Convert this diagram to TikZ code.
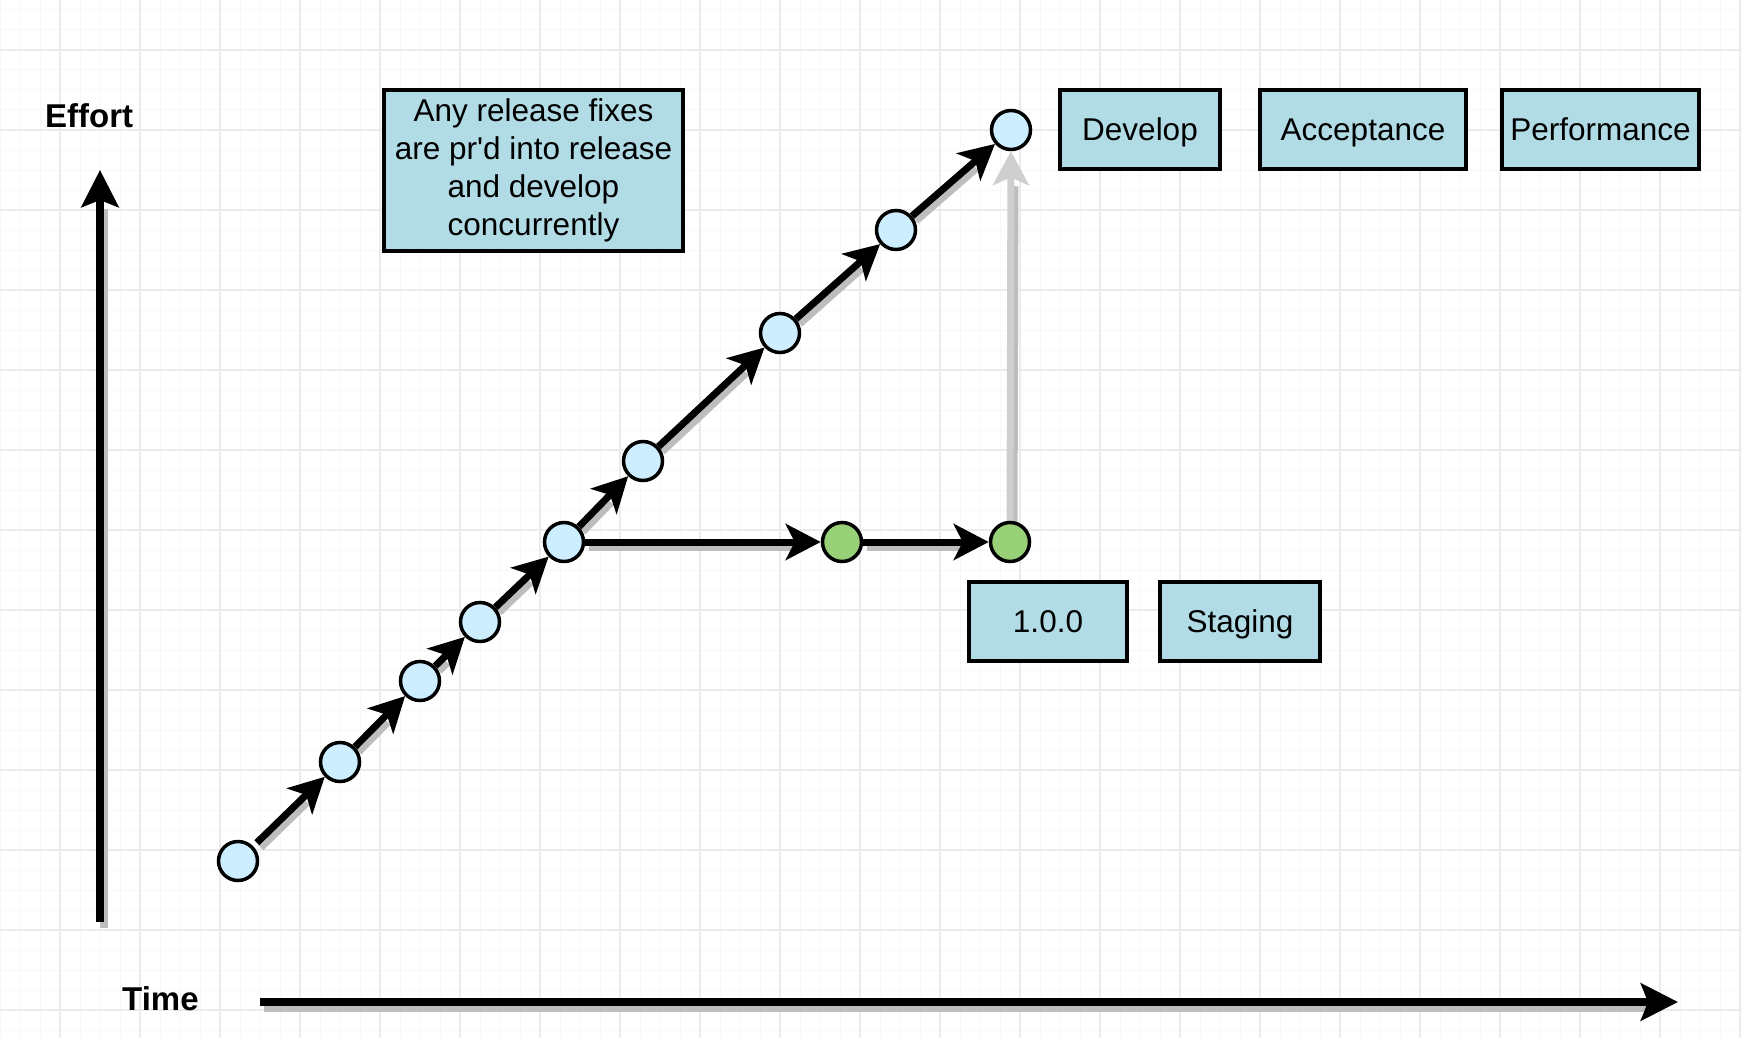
\documentclass[tikz,border=0pt]{standalone}
\usepackage{fontspec}
\setmainfont{Liberation Sans}
\usetikzlibrary{arrows.meta}
\pgfdeclarelayer{gridlayer}
\pgfdeclarelayer{shadowlayer}
\pgfdeclarelayer{edgelayer}
\pgfsetlayers{gridlayer,shadowlayer,edgelayer,main}
\definecolor{nodeblue}{HTML}{CCEEFF}
\definecolor{nodegreen}{HTML}{97D077}
\definecolor{boxblue}{HTML}{B1DCE6}
\definecolor{shadowgray}{HTML}{BDBDBD}
\definecolor{mergegray}{HTML}{CFCFCF}
\definecolor{minorgrid}{HTML}{F7F7F7}
\definecolor{majorgrid}{HTML}{EBEBEB}
\tikzset{
  commit/.style={circle, draw=black, line width=3.5pt, fill=nodeblue, minimum size=39pt, inner sep=0pt},
  relcommit/.style={commit, fill=nodegreen},
  notebox/.style={draw=black, line width=4pt, fill=boxblue, inner sep=0pt, align=center,
    font=\fontsize{31.5}{37.8}\selectfont},
  tagbox/.style={notebox, minimum height=79pt, text height=28pt, text depth=7pt},
  flow/.style={draw=black, line width=7pt, -{Stealth[length=35pt,width=36pt,inset=9pt]}},
  flowshadow/.style={draw=shadowgray, line width=7pt, shorten >=30pt, transform canvas={shift={(4pt,-5pt)}}},
  mergeflow/.style={draw=mergegray, line width=7pt, -{Stealth[length=34pt,width=36pt,inset=8pt]}},
  axisline/.style={draw=black, line width=8pt, -{Stealth[length=37pt,width=37pt,inset=7pt]}},
  axisshadow/.style={draw=shadowgray, line width=8pt, shorten >=33pt, transform canvas={shift={(4pt,-6pt)}}},
  axislabel/.style={inner sep=0pt, anchor=base west, font=\fontsize{33}{38}\selectfont\bfseries},
  minorline/.style={draw=minorgrid, line width=1pt},
  majorline/.style={draw=majorgrid, line width=1.5pt},
}
\begin{document}
\begin{tikzpicture}[x=1pt, y=-1pt]
\useasboundingbox (0,0) rectangle (1742,1038);
\begin{pgfonlayer}{gridlayer}
  \fill[white] (0,0) rectangle (1742,1038);
  \foreach \x in {0,20,...,1740} \draw[minorline] (\x,0) -- (\x,1038);
  \foreach \y in {10,30,...,1030} \draw[minorline] (0,\y) -- (1742,\y);
  \foreach \x in {60,140,...,1740} \draw[majorline] (\x,0) -- (\x,1038);
  \foreach \y in {50,130,...,1010} \draw[majorline] (0,\y) -- (1742,\y);
\end{pgfonlayer}

% commits
\node[commit] (n1) at (238,861) {};
\node[commit] (n2) at (340,762) {};
\node[commit] (n3) at (420,681) {};
\node[commit] (n4) at (480,622) {};
\node[commit] (n5) at (564,542) {};
\node[commit] (n6) at (643,461) {};
\node[commit] (n7) at (780,333) {};
\node[commit] (n8) at (896,230) {};
\node[commit] (n9) at (1011,130) {};
\node[relcommit] (g1) at (842,542) {};
\node[relcommit] (g2) at (1010,542) {};

% boxes
\node[notebox, minimum width=299pt, minimum height=160pt] (note) at (533.5,170.5)
  {Any release fixes\\are pr\textquotesingle d into release\\and develop\\concurrently};
\node[tagbox, minimum width=160pt] (develop) at (1140,129.5) {Develop};
\node[tagbox, minimum width=206pt] (accept) at (1363,129.5) {Acceptance};
\node[tagbox, minimum width=197pt] (perf) at (1600.5,129.5) {Performance};
\node[tagbox, minimum width=158pt] (rel) at (1048,621.5) {1.0.0};
\node[tagbox, minimum width=160pt] (staging) at (1240,621.5) {Staging};

% axis labels
\node[axislabel] (effort) at (45,128) {Effort};
\node[axislabel] (time) at (122,1010) {Time};
\coordinate (ya0) at (100,922);
\coordinate (ya1) at (100,170);
\coordinate (xa0) at (260,1002);
\coordinate (xa1) at (1678,1002);

\begin{pgfonlayer}{shadowlayer}
  \draw[axisshadow] (ya0) -- (ya1);
  \draw[axisshadow] (xa0) -- (xa1);
  \draw[flowshadow, shorten <=5pt] (n1) -- (n2);
  \foreach \a/\b in {n2/n3,n3/n4,n4/n5,n5/n6,n6/n7,n7/n8,n8/n9,n5/g1,g1/g2}
    \draw[flowshadow] (\a) -- (\b);
  \draw[flowshadow] (g2) -- (n9);
\end{pgfonlayer}

\begin{pgfonlayer}{edgelayer}
  \draw[axisline] (ya0) -- (ya1);
  \draw[axisline] (xa0) -- (xa1);
  \draw[flow, shorten <=5pt] (n1) -- (n2);
  \foreach \a/\b in {n2/n3,n3/n4,n4/n5,n5/n6,n6/n7,n7/n8,n8/n9,n5/g1,g1/g2}
    \draw[flow] (\a) -- (\b);
  \draw[mergeflow] (g2) -- (n9);
\end{pgfonlayer}
\end{tikzpicture}
\end{document}
